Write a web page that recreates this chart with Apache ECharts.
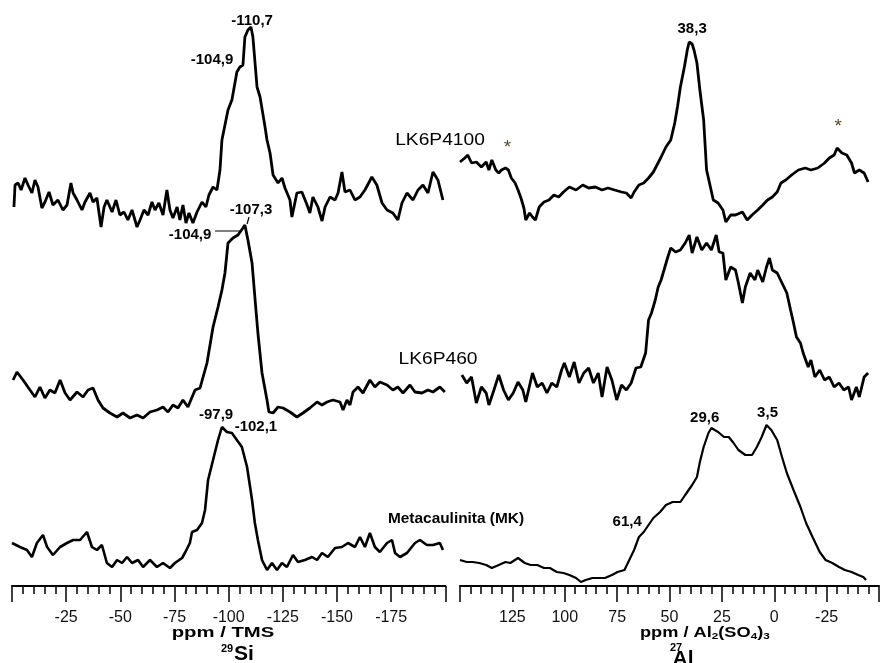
<!DOCTYPE html>
<html>
<head>
<meta charset="utf-8">
<script src="https://cdn.jsdelivr.net/npm/echarts@6/dist/echarts.min.js"></script>
<style>
  html, body { margin: 0; padding: 0; background: #fff; }
  #chart { width: 882px; height: 663px; }
</style>
</head>
<body>
<div id="chart"></div>
<script>
// 29Si spectra: [ppm, intensity above own baseline]
const siLK6P4100 = [[-0.9,19],[-1.4,41],[-2.8,43],[-4.2,36],[-6.0,48],[-7.4,41],[-9.2,33],[-10.6,46],[-12.0,39],[-13.8,18],[-15.2,24],[-17.1,34],[-18.9,21],[-21.2,26],[-23.5,16],[-25.4,21],[-27.2,43],[-28.2,33],[-30.0,26],[-32.3,16],[-33.7,24],[-36.0,33],[-37.4,24],[-39.2,28],[-41.1,-1],[-42.5,19],[-43.8,26],[-46.2,14],[-48.0,26],[-49.8,11],[-51.7,14],[-53.5,6],[-55.4,16],[-57.7,-1],[-59.1,6],[-60.9,16],[-62.8,11],[-64.6,24],[-66.0,16],[-67.8,23],[-69.7,11],[-71.5,36],[-72.9,16],[-74.3,8],[-76.2,19],[-77.5,6],[-78.9,21],[-80.3,3],[-81.7,13],[-83.5,3],[-85.4,14],[-87.7,24],[-89.5,19],[-90.9,31],[-92.8,39],[-94.6,36],[-96.0,56],[-96.9,86],[-99.7,116],[-101.5,126],[-103.8,154],[-105.2,159],[-106.6,161],[-107.5,189],[-108.9,196],[-110.3,199],[-111.2,189],[-113.1,139],[-114.5,129],[-116.8,99],[-117.7,86],[-119.1,73],[-120.5,51],[-122.8,43],[-124.6,48],[-126.0,38],[-128.3,26],[-129.2,9],[-131.5,33],[-133.8,34],[-136.2,21],[-137.5,13],[-138.9,29],[-141.2,19],[-143.1,5],[-144.5,19],[-146.8,29],[-149.1,26],[-150.5,33],[-152.3,54],[-153.7,34],[-156.0,36],[-158.3,26],[-160.6,29],[-162.9,36],[-166.1,49],[-168.4,41],[-170.8,23],[-173.1,16],[-175.8,13],[-178.1,6],[-180.0,23],[-182.3,33],[-185.1,26],[-187.4,36],[-189.7,41],[-192.0,33],[-194.3,54],[-196.6,46],[-198.9,26]];
const siLK6P460 = [[-0.5,36],[-2.3,44],[-5.1,36],[-8.3,26],[-10.6,19],[-12.9,29],[-15.2,18],[-17.5,26],[-19.8,23],[-22.2,36],[-24.5,23],[-26.8,16],[-30.0,24],[-32.8,19],[-35.1,26],[-37.4,28],[-39.7,16],[-42.0,8],[-45.2,3],[-48.5,-1],[-51.2,3],[-54.5,-2],[-57.7,1],[-60.5,-2],[-63.7,4],[-66.9,6],[-69.7,9],[-72.0,4],[-74.3,11],[-76.6,8],[-78.9,16],[-81.2,9],[-84.5,26],[-86.8,28],[-90.0,53],[-92.8,89],[-95.1,109],[-96.9,126],[-98.3,143],[-99.7,173],[-102.0,178],[-104.3,181],[-106.6,188],[-107.5,191],[-108.9,176],[-110.8,153],[-112.1,119],[-113.5,83],[-115.4,43],[-117.7,16],[-118.6,4],[-120.5,3],[-122.8,9],[-125.1,8],[-128.3,4],[-131.5,-1],[-134.3,3],[-137.5,8],[-140.8,14],[-143.1,11],[-145.4,14],[-148.1,16],[-151.4,14],[-152.8,6],[-154.6,16],[-156.0,11],[-157.4,24],[-159.7,29],[-162.0,23],[-165.2,36],[-167.5,29],[-169.8,34],[-173.1,31],[-175.8,26],[-178.1,29],[-180.5,23],[-183.7,31],[-186.0,24],[-189.2,23],[-192.0,26],[-194.3,24],[-197.5,29],[-199.8,24]];
const siMK = [[0.0,43],[-3.7,39],[-6.9,36],[-9.2,29],[-11.5,43],[-14.3,51],[-16.2,39],[-18.9,31],[-22.2,39],[-25.4,43],[-28.2,46],[-31.4,46],[-34.6,54],[-36.9,39],[-39.2,36],[-41.5,41],[-43.8,23],[-46.2,19],[-48.5,26],[-50.8,23],[-53.1,29],[-55.4,23],[-58.2,26],[-60.5,19],[-63.7,26],[-66.9,19],[-69.7,23],[-72.9,18],[-75.2,23],[-78.5,28],[-79.8,33],[-82.1,43],[-83.1,54],[-85.4,56],[-87.7,63],[-89.1,76],[-90.5,106],[-92.8,126],[-95.1,146],[-96.9,159],[-99.2,154],[-101.5,153],[-103.8,146],[-106.1,139],[-108.5,119],[-110.8,86],[-112.1,63],[-113.5,46],[-115.4,26],[-117.7,16],[-120.0,23],[-122.3,16],[-124.6,23],[-126.9,19],[-129.7,31],[-132.0,24],[-135.2,26],[-138.5,29],[-140.8,26],[-143.1,33],[-145.8,29],[-149.1,38],[-152.3,39],[-155.1,43],[-158.3,39],[-160.6,49],[-162.9,39],[-165.2,53],[-167.5,39],[-169.8,34],[-173.1,43],[-175.4,46],[-176.8,33],[-179.1,29],[-182.3,33],[-186.0,43],[-188.3,46],[-191.5,41],[-194.3,41],[-197.5,43],[-198.9,36]];

// 27Al spectra: [ppm, intensity above own baseline]
const alLK6P4100 = [[150.0,64],[147.7,68],[146.3,71],[144.5,63],[142.2,64],[139.8,59],[137.5,64],[136.2,56],[134.8,66],[132.9,56],[131.5,53],[130.2,56],[128.3,58],[126.9,56],[125.5,48],[123.7,43],[122.3,36],[120.9,28],[119.5,18],[118.6,6],[116.8,13],[115.4,9],[114.0,6],[112.2,19],[109.9,24],[107.5,26],[105.2,31],[102.9,29],[100.6,34],[97.8,39],[94.6,36],[91.4,41],[88.6,38],[85.4,39],[82.2,36],[79.4,38],[76.2,36],[72.9,34],[70.6,33],[68.3,28],[66.9,34],[64.6,41],[62.3,43],[60.0,48],[57.7,54],[54.0,69],[51.7,79],[49.4,86],[47.5,103],[46.2,119],[44.8,139],[42.9,159],[41.5,176],[40.6,184],[39.2,182],[38.3,176],[36.9,163],[35.5,136],[33.7,106],[32.3,56],[30.9,43],[29.1,26],[26.8,23],[24.5,16],[23.1,4],[20.8,11],[18.5,11],[15.2,14],[12.9,6],[10.6,11],[7.9,16],[5.5,21],[3.2,26],[0.9,29],[-1.4,34],[-3.2,43],[-5.5,46],[-8.3,51],[-11.5,56],[-14.8,58],[-17.5,56],[-20.8,58],[-24.0,63],[-26.3,68],[-28.6,71],[-30.0,78],[-32.3,73],[-34.6,71],[-36.9,63],[-38.3,53],[-40.6,56],[-42.9,53],[-44.8,44]];
const alLK6P460 = [[149.1,41],[146.8,33],[144.5,39],[142.2,13],[139.8,29],[137.5,23],[136.2,11],[133.8,26],[131.5,41],[129.2,26],[126.9,16],[124.6,23],[122.3,34],[120.0,26],[118.6,14],[115.4,43],[113.1,29],[110.8,33],[108.5,23],[106.2,33],[103.8,29],[101.5,46],[100.2,53],[97.8,39],[95.5,54],[93.2,33],[90.9,43],[88.6,48],[86.3,33],[84.0,43],[82.2,19],[79.8,49],[77.5,36],[75.2,16],[72.9,31],[70.6,26],[68.3,33],[66.0,48],[63.7,49],[61.4,63],[60.0,96],[58.6,103],[56.8,116],[55.4,129],[54.0,136],[52.2,149],[50.8,159],[49.4,168],[47.1,164],[44.8,166],[42.5,173],[40.6,181],[39.2,163],[36.9,179],[34.6,166],[32.3,173],[30.0,166],[27.7,181],[26.3,164],[24.5,163],[23.1,136],[20.8,149],[18.5,146],[17.1,133],[15.2,113],[13.8,129],[11.5,143],[9.2,136],[7.9,146],[5.5,134],[3.7,149],[2.3,158],[0.9,146],[-1.4,143],[-3.7,133],[-6.0,123],[-7.8,106],[-9.2,93],[-10.6,79],[-12.5,73],[-13.8,63],[-16.2,49],[-17.5,56],[-19.4,39],[-21.7,46],[-24.0,36],[-26.3,39],[-28.6,29],[-30.9,33],[-33.2,26],[-35.5,29],[-36.9,16],[-39.2,29],[-40.6,19],[-42.9,39],[-44.8,43]];
const alMK = [[150.0,26],[146.8,24],[144.0,24],[140.8,23],[137.5,21],[134.8,18],[131.5,21],[128.3,24],[126.0,23],[122.3,28],[119.1,23],[116.3,21],[113.1,21],[109.9,18],[107.1,18],[103.8,14],[100.6,13],[97.8,11],[94.6,8],[92.3,4],[90.0,6],[86.8,8],[84.0,8],[80.8,8],[77.5,11],[74.8,14],[71.5,16],[69.2,26],[66.9,36],[64.6,49],[62.3,54],[60.0,61],[57.7,68],[54.5,74],[51.7,81],[48.5,84],[44.8,84],[42.5,91],[39.2,101],[36.9,109],[35.5,124],[33.7,139],[31.4,153],[30.0,158],[26.8,154],[24.0,149],[21.7,149],[19.4,143],[17.1,136],[13.8,131],[10.6,131],[8.3,139],[6.0,149],[3.7,161],[1.4,156],[-1.4,146],[-3.7,129],[-6.0,113],[-9.2,96],[-12.5,79],[-15.2,63],[-18.5,48],[-21.7,34],[-24.5,26],[-27.7,23],[-30.9,19],[-33.7,16],[-36.9,14],[-40.1,11],[-42.5,9],[-43.8,6]];

// peak labels: [ppm, intensity, text, row]
const siPeaks = [[-110.8,205,'-110,7',0],[-92.3,166,'-104,9',0],[-110.3,206,'-107,3',1],[-82.2,181,'-104,9',1],[-94.2,171,'-97,9',2],[-112.6,159,'-102,1',2]];
const alPeaks = [[39.2,197,'38,3',0],[33.2,168,'29,6',2],[3.2,173,'3,5',2],[70.2,64,'61,4',2]];
const alStars = [[127.4,78,0],[-30.5,99,0]];
// leader lines from the -104,9 / -107,3 labels (row 1)
const siLeaders = [[[-93.7,185],[-106.1,185]],[[-108.5,192],[-109.4,199]]];

const rowOffsets = [360, 170, 0];
const sampleNames = ['LK6P4100', 'LK6P460', 'Metacaulinita (MK)'];

const shift = (data, row) => data.map(p => [p[0], p[1] + rowOffsets[row]]);

function spectrum(data, row, gi, width) {
  return {
    type: 'line', xAxisIndex: gi, yAxisIndex: gi,
    data: shift(data, row), showSymbol: false, symbol: 'none',
    lineStyle: { color: '#000', width: width }, z: 3
  };
}

function textSeries(items, gi, fmt) {
  return {
    type: 'scatter', xAxisIndex: gi, yAxisIndex: gi, symbolSize: 0, z: 5,
    itemStyle: { color: '#000' },
    data: items.map(p => ({
      value: [p[0], p[1] + rowOffsets[p[3]]],
      label: Object.assign({
        show: true, position: [0, 0], align: 'center', verticalAlign: 'middle',
        formatter: p[2], opacity: 1, textBorderWidth: 0
      }, fmt)
    }))
  };
}

const peakFont = { fontFamily: 'Liberation Sans', fontSize: 15, fontWeight: 'bold', color: '#000' };
const axisFont = { fontFamily: 'Liberation Sans', fontSize: 16, color: '#111' };

function ppmAxis(gi, min, max) {
  return {
    type: 'value', gridIndex: gi, min: min, max: max, interval: 25, inverse: true,
    position: 'bottom',
    axisLine: { show: true, onZero: false, lineStyle: { color: '#000', width: 2 } },
    axisTick: { show: true, length: 16, lineStyle: { color: '#000', width: 1.5 } },
    minorTick: { show: true, splitNumber: 5, length: 8, lineStyle: { color: '#000', width: 1.5 } },
    splitLine: { show: false },
    axisLabel: Object.assign({
      margin: 24,
      formatter: v => (v === min || v === max) ? '' : String(v)
    }, axisFont)
  };
}

const chart = echarts.init(document.getElementById('chart'));

const series = [
  spectrum(siLK6P4100, 0, 0, 2.8),
  spectrum(siLK6P460, 1, 0, 2.8),
  spectrum(siMK, 2, 0, 2.6),
  spectrum(alLK6P4100, 0, 1, 2.8),
  spectrum(alLK6P460, 1, 1, 2.8),
  spectrum(alMK, 2, 1, 2.2),
  textSeries(siPeaks, 0, peakFont),
  textSeries(alPeaks, 1, peakFont),
  textSeries(alStars.map(p => [p[0], p[1], '*', p[2]]), 1,
    { fontFamily: 'Liberation Sans', fontSize: 19, color: '#5a4526' })
];
siLeaders.forEach(seg => series.push({
  type: 'line', xAxisIndex: 0, yAxisIndex: 0, data: shift(seg, 1), symbol: 'none',
  lineStyle: { color: '#000', width: 1.2 }
}));

const bold = size => `bold ${size}px "Liberation Sans"`;
const txt = (x, y, text, font, extra) => Object.assign({
  type: 'text', x: x, y: y,
  style: { text: text, font: font, fill: '#000', align: 'center', verticalAlign: 'middle' }
}, extra || {});

chart.setOption({
  animation: false,
  backgroundColor: '#fff',
  grid: [
    { left: 12, top: 0, width: 433.3, height: 586 },
    { left: 460, top: 0, width: 433.3, height: 586 }
  ],
  xAxis: [ppmAxis(0, -200, 0), ppmAxis(1, -50, 150)],
  yAxis: [
    { type: 'value', gridIndex: 0, min: 0, max: 586, show: false },
    { type: 'value', gridIndex: 1, min: 0, max: 586, show: false }
  ],
  series: series,
  graphic: [
    txt(440, 141, sampleNames[0], '16px "Liberation Sans"', { scaleX: 1.2 }),
    txt(438, 360, sampleNames[1], '16px "Liberation Sans"', { scaleX: 1.2 }),
    txt(456, 519, sampleNames[2], bold(14), { scaleX: 1.1 }),
    // 29Si axis title
    txt(223, 633, 'ppm / TMS', bold(14), { scaleX: 1.45 }),
    txt(227, 649, '29', bold(11)),
    txt(244, 654, 'Si', bold(21)),
    // 27Al axis title
    {
      type: 'group', x: 640, y: 633, scaleX: 1.3,
      children: [
        [0, 0, 'ppm / Al', 14], [55.2, 4, '2', 9], [60.2, 0, '(SO', 14],
        [85.1, 4, '4', 9], [90.1, 0, ')', 14], [94.8, 4, '3', 9]
      ].map(t => ({
        type: 'text', x: t[0], y: t[1],
        style: { text: t[2], font: bold(t[3]), fill: '#000', align: 'left', verticalAlign: 'middle' }
      }))
    },
    txt(676, 648, '27', bold(11)),
    txt(683, 659, 'Al', bold(21))
  ]
});
</script>
</body>
</html>
